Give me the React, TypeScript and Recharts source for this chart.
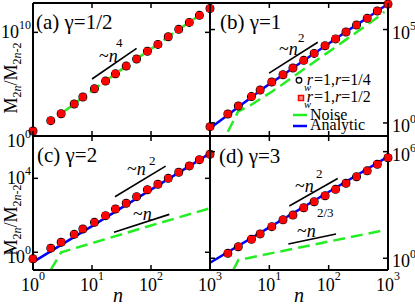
import React from 'react';
import { ComposedChart, Scatter, Line, XAxis, YAxis, ReferenceLine, Legend } from 'recharts';

const SERIF = '"Liberation Serif", "Times New Roman", Times, serif';
const CHART_W = 415;
const CHART_H = 305;

// ---------- data ----------
const nValues = [1, 2, 3, 5, 7, 11, 17, 25, 38, 57, 87, 131, 196, 295, 446, 661, 1000];
const xTicks = [1, 10, 100, 1000];

// (a) gamma = 1/2
const markersA = [3.0, 30, 141, 1230, 5750, 3.6e4, 2.0e5, 1.0e6, 5.6e6, 2.7e7, 1.5e8, 6.9e8, 3.8e9, 1.95e10, 9.1e10, 4.4e11, 2.0e12];
const noiseAn = [3, 5, 7, 11, 17, 25, 38, 57, 87, 131, 196, 295, 446, 661, 1000];
const noiseA = [141, 1230, 5750, 3.6e4, 2.0e5, 1.0e6, 5.6e6, 2.7e7, 1.5e8, 6.9e8, 3.8e9, 1.95e10, 9.1e10, 4.4e11, 2.6e12];
const yTicksA = [1, 1e10];

// (b) gamma = 1
const markersB = [0.63, 3.0, 8.1, 25.7, 57.5, 155, 380, 871, 2240, 5250, 1.35e4, 3.16e4, 7.4e4, 1.74e5, 3.98e5, 9.8e5, 2.3e6];
const analyticB = [0.52, 2.63, 7.08, 24, 55, 148, 372, 871, 2190, 5250, 1.32e4, 3.16e4, 7.6e4, 1.78e5, 4.17e5, 9.8e5, 2.34e6];
const noiseBn = [2, 3, 5, 7, 11, 17, 25, 38, 57, 87, 131, 196, 295, 446, 661, 870];
const noiseB = [0.34, 4.2, 9.5, 19, 47, 120, 288, 741, 1820, 4680, 1.15e4, 2.88e4, 7.1e4, 1.78e5, 4.37e5, 8.9e5];
const yTicksB = [1, 1e5];

// (c) gamma = 2
const markersC = [0.44, 1.66, 3.47, 9.3, 18.2, 41.7, 95.5, 219, 447, 1020, 2400, 4790, 1.0e4, 2.14e4, 4.68e4, 1.02e5, 2.0e5];
const analyticCn = [1, 3, 10, 30, 100, 300, 1000];
const analyticC = [0.29, 2.5, 26, 229, 2450, 2.1e4, 2.24e5];
const noiseCn = [2, 3, 10, 100, 1000];
const noiseC = [0.11, 1.0, 3.1, 28, 240];
const yTicksC = [1, 1e4];

// (d) gamma = 3
const markersDn = [2, 3, 5, 7, 11, 17, 25, 38, 57, 87, 131, 196, 295, 446, 661, 1000];
const markersD = [1.9, 4.47, 11.7, 23.4, 60, 145, 269, 692, 1510, 3310, 7590, 1.66e4, 3.89e4, 8.3e4, 1.95e5, 4.57e5];
const analyticDn = [1, 10, 100, 1000];
const analyticD = [0.56, 55, 5370, 5.25e5];
const noiseDn = [2.47, 3, 10, 100, 891];
const noiseD = [0.22, 0.79, 1.82, 8.7, 38.9];
const yTicksD = [1, 1e6];

const legendEntries = [
  { kind: 'ring', r: '1/4' },
  { kind: 'square', r: '1/2' },
  { kind: 'noise', label: 'Noise' },
  { kind: 'analytic', label: 'Analytic' },
];

type Pt = { n: number; v: number };
const zip = (xs: number[], ys: number[]): Pt[] => xs.map((n, i) => ({ n, v: ys[i] }));
const exp10 = (v: number) => Math.round(Math.log10(v));

const GREEN = '#22ee22';
const BLUE = '#0000ff';
const RED = '#ff0000';

type Guide = { from: [number, number]; to: [number, number] };
type Box = { left: number; top: number; right: number; bottom: number };

type PanelCfg = {
  key: string;
  box: Box;
  yDomain: [number, number];
  yTicks: number[];
  yLabelSide: 'left' | 'right';
  xLabels: boolean;
  hiddenX: number[];
  markers: Pt[];
  noise: Pt[];
  analytic: Pt[] | null;
  guides: Guide[];
  legend: boolean;
};

const panels: PanelCfg[] = [
  {
    key: 'a',
    box: { left: 33, top: 3, right: 210, bottom: 136 },
    yDomain: [1, 6.8e12],
    yTicks: yTicksA,
    yLabelSide: 'left',
    xLabels: false,
    hiddenX: [],
    markers: zip(nValues, markersA),
    noise: zip(noiseAn, noiseA),
    analytic: null,
    guides: [{ from: [10, 3.16e5], to: [57, 2.88e8] }],
    legend: false,
  },
  {
    key: 'b',
    box: { left: 210, top: 3, right: 388, bottom: 136 },
    yDomain: [0.2, 2.63e6],
    yTicks: yTicksB,
    yLabelSide: 'right',
    xLabels: false,
    hiddenX: [],
    markers: zip(nValues, markersB),
    noise: zip(noiseBn, noiseB),
    analytic: zip(nValues, analyticB),
    guides: [{ from: [9.9, 468], to: [65.5, 2.09e4] }],
    legend: true,
  },
  {
    key: 'c',
    box: { left: 33, top: 136, right: 210, bottom: 270 },
    yDomain: [0.1096, 1.95e6],
    yTicks: yTicksC,
    yLabelSide: 'left',
    xLabels: true,
    hiddenX: [],
    markers: zip(nValues, markersC),
    noise: zip(noiseCn, noiseC),
    analytic: zip(analyticCn, analyticC),
    guides: [
      { from: [24.5, 1000], to: [177, 4.57e4] },
      { from: [23.6, 12], to: [204, 112] },
    ],
    legend: false,
  },
  {
    key: 'd',
    box: { left: 210, top: 136, right: 388, bottom: 270 },
    yDomain: [0.2188, 7.6e6],
    yTicks: yTicksD,
    yLabelSide: 'right',
    xLabels: true,
    hiddenX: [1],
    markers: zip(markersDn, markersD),
    noise: zip(noiseDn, noiseD),
    analytic: zip(analyticDn, analyticD),
    guides: [
      { from: [21.7, 871], to: [142, 3.09e4] },
      { from: [20.9, 6.3], to: [133, 23.4] },
    ],
    legend: false,
  },
];

// ---------- marker shapes & tick renderers ----------
const TICK_LEN = 5;

const Ring = (props: any) => {
  const { cx, cy } = props;
  if (cx == null || cy == null) return <g />;
  return <circle cx={cx} cy={cy} r={3.9} fill="none" stroke="#000" strokeWidth={1.2} />;
};
const Square = (props: any) => {
  const { cx, cy } = props;
  if (cx == null || cy == null) return <g />;
  return <rect x={cx - 3} y={cy - 3} width={6} height={6} fill={RED} stroke={RED} strokeWidth={1} />;
};

// bottom axis tick: draws the inward tick at the bottom and its twin at the top of the box
function bottomTick(props: any, p: PanelCfg) {
  const { x, y, payload } = props;
  const v = payload.value;
  return (
    <g>
      <line x1={x} y1={y} x2={x} y2={y - TICK_LEN} stroke="#000" strokeWidth={1.5} />
      <line x1={x} y1={p.box.top} x2={x} y2={p.box.top + TICK_LEN} stroke="#000" strokeWidth={1.5} />
      {p.xLabels && !p.hiddenX.includes(v) && (
        <text x={x} y={y + 21} textAnchor="middle" fontFamily={SERIF} fontSize={18} fill="#000">
          10<tspan dy={-11} fontSize={12}>{exp10(v)}</tspan>
        </text>
      )}
    </g>
  );
}
// left axis tick: inward ticks on both sides, label on the side the panel uses
function leftTick(props: any, p: PanelCfg) {
  const { x, y, payload } = props;
  const v = payload.value;
  const right = p.box.right;
  return (
    <g>
      <line x1={x} y1={y} x2={x + TICK_LEN} y2={y} stroke="#000" strokeWidth={1.5} />
      <line x1={right} y1={y} x2={right - TICK_LEN} y2={y} stroke="#000" strokeWidth={1.5} />
      {p.yLabelSide === 'left' && (
        <text x={x - 2} y={y + (v === 1 ? 11 : 6)} textAnchor="end" fontFamily={SERIF} fontSize={18} fill="#000">
          10<tspan dy={-9} fontSize={12}>{exp10(v)}</tspan>
        </text>
      )}
      {p.yLabelSide === 'right' && (
        <text x={right + 4} y={y + 9} textAnchor="start" fontFamily={SERIF} fontSize={18} fill="#000">
          10<tspan dy={-9} fontSize={12}>{exp10(v)}</tspan>
        </text>
      )}
    </g>
  );
}

const LegendBox = () => (
  <svg width={110} height={70} style={{ display: 'block', overflow: 'visible' }}>
    {legendEntries.map((e, i) => {
      if (e.kind === 'ring' || e.kind === 'square') {
        const base = i === 0 ? 15 : 32;
        return (
          <g key={i}>
            {e.kind === 'ring' ? (
              <circle cx={9} cy={base - 4.7} r={2.8} fill="none" stroke="#000" strokeWidth={1.3} />
            ) : (
              <rect x={8.5} y={base - 6.5} width={5} height={5} fill="#ff9090" stroke={RED} strokeWidth={1.5} />
            )}
            <text x={14} y={base} fontFamily={SERIF} fontSize={16} fill="#000">
              <tspan fontStyle="italic">r</tspan>
              <tspan dx={-9} dy={6} fontSize={10.5} fontStyle="italic">w</tspan>
              <tspan dx={3} dy={-6}>=1,</tspan>
              <tspan fontStyle="italic">r</tspan>
              <tspan>={e.r}</tspan>
            </text>
          </g>
        );
      }
      const ly = e.kind === 'noise' ? 45 : 56;
      const ty = e.kind === 'noise' ? 50 : 60;
      return (
        <g key={i}>
          <line x1={3} y1={ly} x2={17} y2={ly} stroke={e.kind === 'noise' ? GREEN : BLUE} strokeWidth={2.5} />
          <text x={20} y={ty} fontFamily={SERIF} fontSize={16} fill="#000">{e.label}</text>
        </g>
      );
    })}
  </svg>
);

function Panel({ p }: { p: PanelCfg }) {
  // every axis takes 1px, so the margins are reduced by 1 to keep the plot box in place
  const margin = {
    top: p.box.top - 1,
    left: p.box.left - 1,
    right: CHART_W - p.box.right - 1,
    bottom: CHART_H - p.box.bottom - 1,
  };
  const axisLine = { stroke: '#000', strokeWidth: 2 };
  return (
    <div style={{ position: 'absolute', left: 0, top: 0, width: CHART_W, height: CHART_H }}>
      <ComposedChart width={CHART_W} height={CHART_H} margin={margin}>
        <XAxis
          dataKey="n"
          type="number"
          scale="log"
          domain={[1, 1000]}
          ticks={xTicks}
          interval={0}
          height={1}
          tickSize={0}
          tickMargin={0}
          tickLine={false}
          axisLine={axisLine}
          tick={(props: any) => bottomTick(props, p)}
        />
        <XAxis
          xAxisId="top"
          orientation="top"
          dataKey="n"
          type="number"
          scale="log"
          domain={[1, 1000]}
          height={1}
          tickLine={false}
          axisLine={axisLine}
          tick={false}
        />
        <YAxis
          type="number"
          scale="log"
          domain={p.yDomain}
          ticks={p.yTicks}
          interval={0}
          width={1}
          tickSize={0}
          tickMargin={0}
          tickLine={false}
          axisLine={axisLine}
          tick={(props: any) => leftTick(props, p)}
        />
        <YAxis
          yAxisId="right"
          orientation="right"
          type="number"
          scale="log"
          domain={p.yDomain}
          width={1}
          tickLine={false}
          axisLine={axisLine}
          tick={false}
        />
        {p.guides.map((g, i) => (
          <ReferenceLine
            key={i}
            segment={[{ x: g.from[0], y: g.from[1] }, { x: g.to[0], y: g.to[1] }]}
            stroke="#000"
            strokeWidth={1.6}
          />
        ))}
        <Scatter data={p.markers} dataKey="v" isAnimationActive={false} shape={(props: any) => <Ring {...props} />} />
        <Scatter data={p.markers} dataKey="v" isAnimationActive={false} shape={(props: any) => <Square {...props} />} />
        <Line
          data={p.noise}
          dataKey="v"
          type="linear"
          stroke={GREEN}
          strokeWidth={2.5}
          strokeDasharray="12 6"
          dot={false}
          activeDot={false}
          isAnimationActive={false}
        />
        {p.analytic && (
          <Line
            data={p.analytic}
            dataKey="v"
            type="linear"
            stroke={BLUE}
            strokeWidth={2.5}
            dot={false}
            activeDot={false}
            isAnimationActive={false}
          />
        )}
        {p.legend && (
          <Legend
            layout="vertical"
            align="center"
            verticalAlign="middle"
            wrapperStyle={{ position: 'absolute', left: 290, top: 70, width: 110, height: 70 }}
            content={() => <LegendBox />}
          />
        )}
      </ComposedChart>
    </div>
  );
}

function Overlay() {
  const t = { fontFamily: SERIF, fill: '#000' } as const;
  const ann = (x: number, y: number, sx: number, sy: number, sup: string | null, key: string) => (
    <g key={key}>
      <text x={x} y={y} fontSize={18} {...t}>~<tspan fontStyle="italic">n</tspan></text>
      {sup && <text x={sx} y={sy} fontSize={13} {...t}>{sup}</text>}
    </g>
  );
  return (
    <svg
      width={CHART_W}
      height={CHART_H}
      style={{ position: 'absolute', left: 0, top: 0, pointerEvents: 'none' }}
    >
      {/* titles */}
      <text x={36} y={29} fontSize={21} {...t}>(a) γ=1/2</text>
      <text x={220} y={29} fontSize={21} {...t}>(b) γ=1</text>
      <text x={37} y={162} fontSize={21} {...t}>(c) γ=2</text>
      <text x={219} y={163} fontSize={21} {...t}>(d) γ=3</text>

      {/* y labels */}
      {[78, 220].map((cy) => (
        <text key={cy} x={17} y={cy} fontSize={18} textAnchor="middle" transform={`rotate(-90 17 ${cy})`} {...t}>
          M<tspan dy={4} fontSize={12}>2<tspan fontStyle="italic">n</tspan></tspan>
          <tspan dy={-4}>/M</tspan>
          <tspan dy={4} fontSize={12}>2<tspan fontStyle="italic">n</tspan>-2</tspan>
        </text>
      ))}

      {/* x labels */}
      <text x={118} y={302} fontSize={20} fontStyle="italic" textAnchor="middle" {...t}>n</text>
      <text x={299} y={302} fontSize={20} fontStyle="italic" textAnchor="middle" {...t}>n</text>

      {/* scaling annotations */}
      {ann(99, 62, 116, 47, '4', 'a')}
      {ann(279, 55, 298, 42, '2', 'b')}
      {ann(127, 175, 149, 165, '2', 'c2')}
      {ann(133, 220, 0, 0, null, 'c1')}
      {ann(295, 192, 316, 178, '2', 'd2')}
      {ann(297, 237, 317, 217, '2/3', 'd23')}
    </svg>
  );
}

export default function App() {
  return (
    <div style={{ position: 'absolute', left: 0, top: 0, width: CHART_W, height: CHART_H, background: '#fff' }}>
      {panels.map((p) => (
        <Panel key={p.key} p={p} />
      ))}
      <Overlay />
    </div>
  );
}
